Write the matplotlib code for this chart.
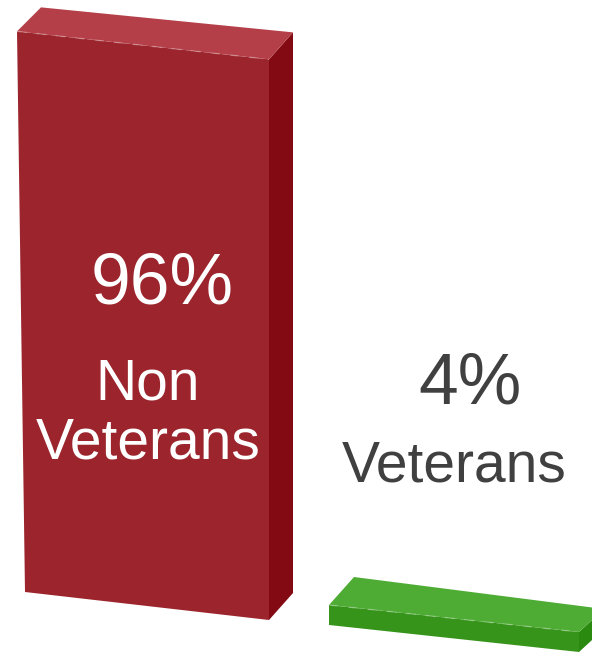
import matplotlib
matplotlib.use('Agg')
import matplotlib.pyplot as plt

plt.rcParams['font.family'] = ['Liberation Sans', 'DejaVu Sans']

labels = ['Non\nVeterans', 'Veterans']
values = [96, 4]
value_labels = ['96%', '4%']

front_colors = ['#9c252d', '#37941b']
top_colors = ['#b53f48', '#4eac35']
side_colors = ['#830a12', '#2a8a10']
text_colors = ['white', '#404040']

# footprint of each box on the floor, in pixels
# front-left, front-right, back-right, back-left
floors = [[(25, 592), (269, 620), (293, 593), (49, 568)],
          [(329, 625), (579, 652), (604, 629), (354, 597)]]
# pixels per percent, the boxes get smaller towards the floor
units = [5.84, 5.0]
# how far the left edge leans out at the top
leans = [8, 0]

fig = plt.figure(figsize=(5.92, 6.53), dpi=100)
ax = fig.add_axes([0, 0, 1, 1])
ax.set_xlim(0, 592)
ax.set_ylim(653, 0)
ax.axis('off')

for i, value in enumerate(values):
    fl, fr, br, bl = floors[i]
    h = value * units[i]
    lean = leans[i]

    tfl = (fl[0] - lean, fl[1] - h)
    tfr = (fr[0], fr[1] - h)
    tbr = (br[0], br[1] - h)
    tbl = (bl[0] - lean, bl[1] - h)

    ax.fill(*zip(fl, fr, tfr, tfl), color=front_colors[i], lw=0)
    ax.fill(*zip(fr, br, tbr, tfr), color=side_colors[i], lw=0)
    ax.fill(*zip(tfl, tfr, tbr, tbl), color=top_colors[i], lw=0)
    ax.plot(*zip(tfl, tfr), color='white', alpha=0.25, lw=1, ls=(0, (7, 7)))

ax.text(162, 285, value_labels[0], color=text_colors[0], fontsize=51.5, ha='center', va='center')
ax.text(148, 414, labels[0], color=text_colors[0], fontsize=41, ha='center', va='center',
        linespacing=1.13, multialignment='center')
ax.text(470, 385, value_labels[1], color=text_colors[1], fontsize=51.5, ha='center', va='center')
ax.text(454, 466, labels[1], color=text_colors[1], fontsize=41, ha='center', va='center')

fig.savefig('out.png', dpi=100)
